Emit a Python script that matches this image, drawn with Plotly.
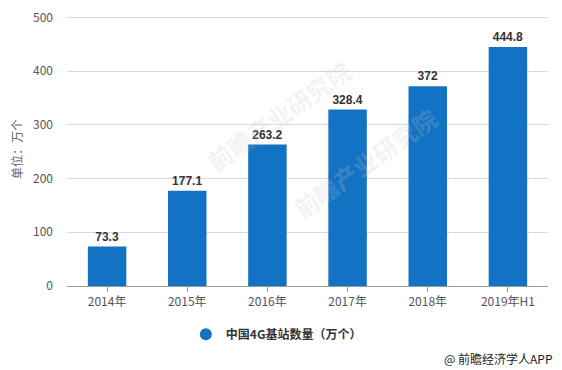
import plotly.graph_objects as go

categories = ["2014年", "2015年", "2016年", "2017年", "2018年", "2019年H1"]
values = [73.3, 177.1, 263.2, 328.4, 372, 444.8]
value_labels = ["73.3", "177.1", "263.2", "328.4", "372", "444.8"]
series_name = "中国4G基站数量（万个）"
y_ticks = [0, 100, 200, 300, 400, 500]

font_family = "Microsoft YaHei, Noto Sans CJK SC, sans-serif"
bar_color = "#1273c4"

fig = go.Figure()
fig.add_trace(go.Bar(
    x=categories, y=values, name=series_name,
    marker=dict(color=bar_color, line=dict(width=0)),
    width=0.48,
    text=value_labels, textposition="outside",
    textfont=dict(size=12, color="#333333", family="Liberation Sans, Arial, sans-serif", weight="bold"),
    cliponaxis=False,
    showlegend=False,
))
# legend proxy with circle marker
fig.add_trace(go.Scatter(
    x=[None], y=[None], mode="markers", name=series_name,
    marker=dict(symbol="circle", size=13, color=bar_color),
))

fig.update_layout(
    width=554, height=362,
    margin=dict(l=59, r=14, t=4, b=84, autoexpand=False),
    paper_bgcolor="white", plot_bgcolor="white",
    font=dict(family=font_family, size=12, color="#555555"),
    showlegend=True,
    legend=dict(orientation="h", x=0.321, xref="container", y=0.099, yref="container",
                xanchor="left", yanchor="middle",
                font=dict(size=12, color="#333333", family=font_family, weight="bold"),
                itemsizing="constant"),
    xaxis=dict(
        showline=True, linecolor="#999999", linewidth=1,
        ticks="outside", ticklen=5, tickcolor="#999999",
        tickfont=dict(size=12, color="#555555"),
        showgrid=False, automargin=False,
    ),
    yaxis=dict(
        range=[0, 510], tickvals=y_ticks,
        showgrid=True, gridcolor="#d9d9d9", gridwidth=1,
        zeroline=False, showline=False,
        tickfont=dict(size=12, color="#555555"),
        ticks="", ticklabelstandoff=13, automargin=False,
        ticklabeloverflow="allow",
        title=dict(text="单位：万个", font=dict(size=12, color="#666666"), standoff=12),
    ),
    annotations=[
        dict(text="@ 前瞻经济学人APP", xref="paper", yref="paper", x=1.0146, y=-0.263,
             xanchor="right", yanchor="middle", showarrow=False,
             font=dict(size=12, color="#222222", family=font_family)),
        dict(text="前瞻产业研究院", xref="paper", yref="paper", x=0.27, y=0.86,
             showarrow=False, textangle=-35,
             font=dict(size=24, color="rgba(200,200,200,0.22)", family=font_family, weight="bold")),
        dict(text="前瞻产业研究院", xref="paper", yref="paper", x=0.62, y=0.45,
             showarrow=False, textangle=-35,
             font=dict(size=24, color="rgba(200,200,200,0.22)", family=font_family, weight="bold")),
    ],
)

fig.write_html("out.html")
